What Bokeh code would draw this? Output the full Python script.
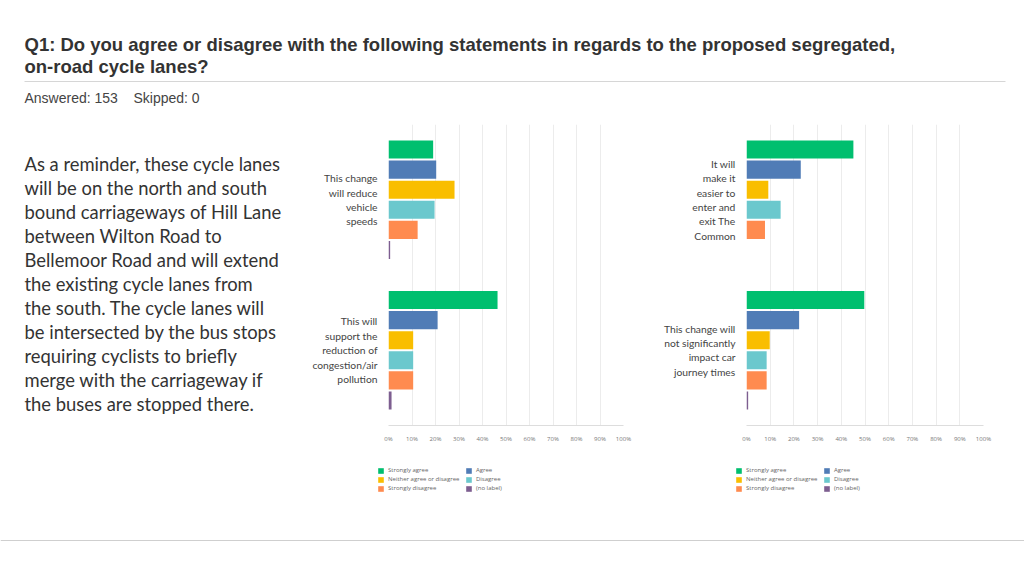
from bokeh.plotting import figure
from bokeh.layouts import column, row
from bokeh.models import (Range1d, FactorRange, FixedTicker, PrintfTickFormatter,
                          Legend, LegendItem, ColumnDataSource)
from bokeh.transform import dodge
from bokeh.embed import file_html
from bokeh.resources import INLINE
from bokeh.core.properties import value

# ---------------- data ----------------
responses = ["Strongly agree", "Agree", "Neither agree or disagree",
             "Disagree", "Strongly disagree", "(no label)"]
colors = ["#00bf6f", "#507cb6", "#f9be00", "#6bc8cd", "#ff8b4f", "#7d5e90"]

left_statements = ["This change\nwill reduce\nvehicle\nspeeds",
                   "This will\nsupport the\nreduction of\ncongestion/air\npollution"]
left_strongly_agree = [19.0, 46.4]
left_agree = [20.3, 20.9]
left_neither = [28.1, 10.5]
left_disagree = [19.6, 10.5]
left_strongly_disagree = [12.4, 10.5]
left_no_label = [0.7, 1.3]

right_statements = ["It will\nmake it\neasier to\nenter and\nexit The\nCommon",
                    "This change will\nnot significantly\nimpact car\njourney times"]
right_strongly_agree = [45.1, 49.7]
right_agree = [22.9, 22.2]
right_neither = [9.2, 9.8]
right_disagree = [14.4, 8.5]
right_strongly_disagree = [7.8, 8.5]
right_no_label = [0.0, 0.7]

pct_ticks = list(range(0, 101, 10))

title_lines = ["Q1: Do you agree or disagree with the following statements in regards to the proposed segregated,",
               "on-road cycle lanes?"]
answered_text = "Answered: 153"
skipped_text = "Skipped: 0"
paragraph = ["As a reminder, these cycle lanes",
             "will be on the north and south",
             "bound carriageways of Hill Lane",
             "between Wilton Road to",
             "Bellemoor Road and will extend",
             "the existing cycle lanes from",
             "the south. The cycle lanes will",
             "be intersected by the bus stops",
             "requiring cyclists to briefly",
             "merge with the carriageway if",
             "the buses are stopped there."]

TXT = "#333333"


def blank_fig(w, h):
    p = figure(width=w, height=h, x_range=Range1d(0, w), y_range=Range1d(h, 0),
               output_backend="svg", toolbar_location=None,
               min_border=0, outline_line_color=None)
    p.axis.visible = False
    p.grid.visible = False
    return p


def add_text(p, x, y, txt, size, color, font, style="normal"):
    p.text(x=[x], y=[y], text=[txt], text_font=value(font), text_font_size=size,
           text_color=color, text_font_style=style, text_align="left",
           text_baseline="middle")


# ---------------- header ----------------
header = blank_fig(1024, 115)
add_text(header, 24, 44, title_lines[0], "18.5px", TXT, "Liberation Sans", "bold")
add_text(header, 24, 66, title_lines[1], "18.5px", TXT, "Liberation Sans", "bold")
header.segment(x0=[24], y0=[81], x1=[1005], y1=[81], line_color="#d6d6d6", line_width=1)
add_text(header, 24, 97, answered_text, "14px", "#444444", "Liberation Sans")
add_text(header, 133, 97, skipped_text, "14px", "#444444", "Liberation Sans")

# ---------------- paragraph ----------------
textfig = blank_fig(300, 385)
for i, line in enumerate(paragraph):
    add_text(textfig, 24, 48 + 24 * i, line, "18.4px", "#333333", "Lato")


# ---------------- charts ----------------
def make_chart(statements, series, width, left_border, frame_w, top_border, frame_h, total_h):
    y_range = FactorRange(factors=list(reversed(statements)))
    p = figure(width=width, height=total_h, x_range=Range1d(0, 100), y_range=y_range,
               output_backend="svg", toolbar_location=None,
               min_border_left=left_border,
               min_border_right=width - left_border - frame_w,
               min_border_top=top_border,
               min_border_bottom=total_h - top_border - frame_h,
               outline_line_color=None)
    data = {"statement": statements}
    for i, s in enumerate(series):
        data[f"r{i}"] = s
    src = ColumnDataSource(data)
    pitch = 20 / 150
    for i, color in enumerate(colors):
        p.hbar(y=dodge("statement", (2.5 - i) * pitch, range=p.y_range),
               left=0, right=f"r{i}", height=18 / 150, source=src,
               fill_color=color, line_color=None)

    p.xaxis.ticker = FixedTicker(ticks=pct_ticks)
    p.xaxis.formatter = PrintfTickFormatter(format="%d%%")
    p.xaxis.major_label_text_font_size = "6px"
    p.xaxis.major_label_text_color = "#777777"
    p.xaxis.major_label_text_font = "Open Sans"
    p.xaxis.axis_line_color = "#dddddd"
    p.xaxis.major_tick_line_color = None
    p.xaxis.minor_tick_line_color = None
    p.xaxis.major_label_standoff = 3

    p.yaxis.major_label_text_font_size = "10.3px"
    p.yaxis.major_label_text_font = "Lato"
    p.yaxis.major_label_text_color = "#444444"
    p.yaxis.axis_line_color = None
    p.yaxis.major_tick_line_color = None
    p.yaxis.minor_tick_line_color = None
    p.yaxis.major_label_standoff = 5

    p.xgrid.grid_line_color = "#ececec"
    p.ygrid.grid_line_color = None
    return p


# legend items listed so that the column-major fill gives the reference's rows
legend_order = [0, 2, 4, 1, 3, 5]


def make_legend_fig(width, height, lx, ly):
    p = blank_fig(width, height)
    nan = float("nan")
    rends = []
    for color in colors:
        rends.append(p.hbar(y=[nan], right=[nan], left=nan, height=1,
                            fill_color=color, line_color=None))
    items = [LegendItem(label=responses[k], renderers=[rends[k]]) for k in legend_order]
    legend = Legend(items=items, ncols=2, location=(lx, ly),
                    label_text_font_size="6px", label_text_color="#666666",
                    label_text_font="Open Sans",
                    glyph_width=7, glyph_height=7, label_height=8, label_width=76,
                    label_standoff=4, spacing=1, padding=0, margin=0,
                    border_line_color=None, background_fill_alpha=0)
    p.add_layout(legend, "center")
    return p


left_series = [left_strongly_agree, left_agree, left_neither,
               left_disagree, left_strongly_disagree, left_no_label]
right_series = [right_strongly_agree, right_agree, right_neither,
                right_disagree, right_strongly_disagree, right_no_label]

chart_left = make_chart(left_statements, left_series, 352, 88, 235, 9, 302, 330)
chart_right = make_chart(right_statements, right_series, 372, 94, 237, 9, 302, 330)
legend_left = make_legend_fig(352, 55, 77, 8)
legend_right = make_legend_fig(372, 55, 83, 8)

# ---------------- footer ----------------
footer = blank_fig(1024, 76)
footer.segment(x0=[0], y0=[40], x1=[1024], y1=[40], line_color="#cfcfcf", line_width=1)

layout = column(header,
                row(column(textfig),
                    column(chart_left, row(legend_left)),
                    column(chart_right, row(legend_right))),
                footer)

open("out.html", "w").write(file_html(layout, INLINE))
